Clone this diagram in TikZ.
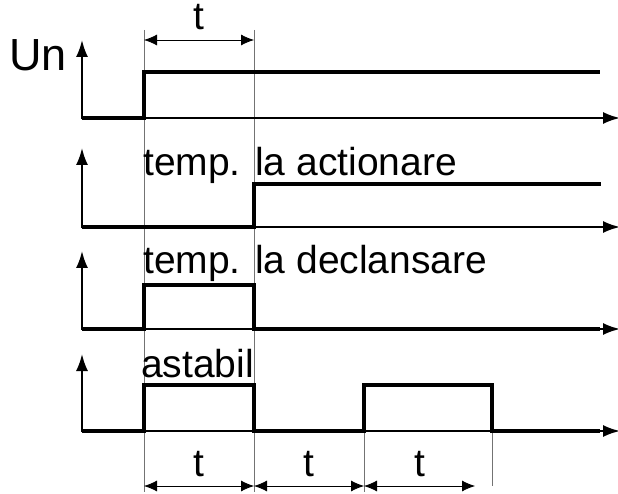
\documentclass[tikz,border=0pt]{standalone}
\usepackage{fontspec}
\setmainfont{Liberation Sans}
\usetikzlibrary{arrows.meta}

\begin{document}
\begin{tikzpicture}[x=1pt, y=1pt, font=\fontsize{39}{44}\selectfont]
	\tikzset{axis/.style={{Latex[length=17pt,width=12pt]}-{Latex[length=17pt,width=12pt]}, line width=2pt},
		signal/.style={line width=4.5pt},
		guide/.style={line width=0.8pt, black!55},
		dim/.style={{Latex[length=13pt,width=11pt]}-{Latex[length=13pt,width=11pt]}, line width=0.8pt},
		lbl/.style={inner sep=0pt, anchor=base west}}
	\useasboundingbox (0,0) rectangle (618,-494);
	%\draw [help lines] (0,0) grid (618,-494);
	% guide lines
	\draw [guide] (144,-30) -- (144,-492);
	\draw [guide] (254,-30) -- (254,-492);
	\draw [guide] (364,-385) -- (364,-492);
	\draw [guide] (492,-385) -- (492,-486);
	% axes
	\draw [axis] (82,-40) -- (82,-118) -- (620,-118);
	\draw [axis] (82,-148) -- (82,-227) -- (620,-227);
	\draw [axis] (82,-251) -- (82,-329) -- (620,-329);
	\draw [axis] (82,-354) -- (82,-431) -- (620,-431);
	% signals
	\draw [signal] (82,-118) -- (144,-118) -- (144,-72) -- (600,-72);
	\draw [signal] (82,-227) -- (254,-227) -- (254,-184) -- (601,-184);
	\draw [signal] (82,-329) -- (144,-329) -- (144,-285) -- (254,-285) -- (254,-329) -- (600,-329);
	\draw [signal] (82,-431) -- (144,-431) -- (144,-385) -- (254,-385) -- (254,-431) -- (364,-431)
		-- (364,-385) -- (492,-385) -- (492,-431) -- (600,-431);
	% labels
	\node [lbl, font=\fontsize{45}{50}\selectfont] (un) at (9,-71) {Un};
	\node [lbl] (actionare) at (143,-176) {temp. la actionare};
	\node [lbl] (declansare) at (143,-273) {temp. la declansare};
	\node [lbl] (astabil) at (141,-377) {astabil};
	% times
	\draw [dim] (144,-40) -- (254,-40) node [pos=0.5, above=10pt, inner sep=0pt] (tTop) {t};
	\draw [dim] (144,-486) -- (254,-486) node [pos=0.5, above=9pt, inner sep=0pt] (tOn) {t};
	\draw [dim] (254,-486) -- (364,-486) node [pos=0.5, above=9pt, inner sep=0pt] (tOff) {t};
	\draw [dim] (364,-486) -- (475,-486) node [pos=0.5, above=9pt, inner sep=0pt] (tNext) {t};
\end{tikzpicture}
\end{document}
